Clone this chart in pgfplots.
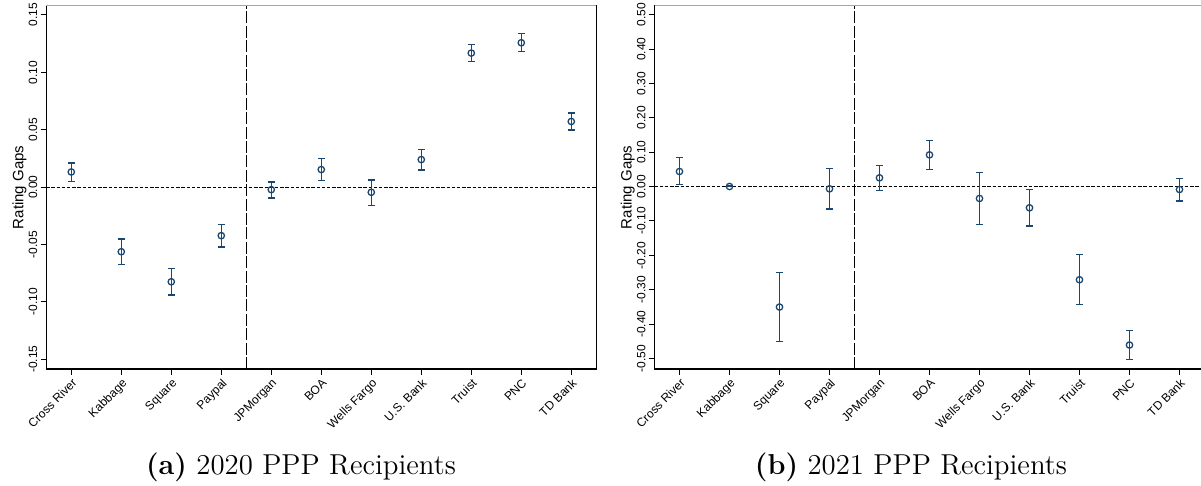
\documentclass[border=0pt]{standalone}
\usepackage{fontspec}
\usepackage{pgfplots}
\pgfplotsset{compat=1.18}
\usepackage{pgfplotstable}
\newfontfamily\arial{Liberation Sans}
\definecolor{stnavy}{RGB}{26,71,111}

\pgfplotstableread{
x y ep em
1 0.0132 0.0079 0.0081
2 -0.0563 0.0110 0.0111
3 -0.0825 0.0116 0.0114
4 -0.0423 0.0098 0.0099
5 -0.0022 0.0067 0.0073
6 0.0153 0.0099 0.0096
7 -0.0045 0.0107 0.0114
8 0.0240 0.0087 0.0090
9 0.1168 0.0073 0.0072
10 0.1258 0.0079 0.0078
11 0.0572 0.0073 0.0073
}\dataA

\pgfplotstableread{
x y ep em
1 0.0441 0.0398 0.0388
2 0.0005 0.0010 0.0010
3 -0.3506 0.1008 0.1009
4 -0.0063 0.0592 0.0592
5 0.0257 0.0369 0.0369
6 0.0926 0.0417 0.0436
7 -0.0344 0.0756 0.0757
8 -0.0616 0.0524 0.0533
9 -0.2711 0.0727 0.0718
10 -0.4612 0.0417 0.0417
11 -0.0082 0.0329 0.0340
}\dataB

\pgfplotsset{
  stpanel/.style={
    scale only axis,
    width=275pt, height=181.65pt,
    anchor=south west,
    xmin=0.5, xmax=11.5,
    xtick={1,...,11},
    xticklabels={Cross River,Kabbage,Square,Paypal,JPMorgan,BOA,Wells Fargo,U.S. Bank,Truist,PNC,TD Bank},
    tick align=outside,
    major tick length=2.8pt,
    xtick pos=bottom, ytick pos=left,
    axis line style={black, line width=0.6pt},
    tick style={black, line width=0.5pt},
    xticklabel style={font=\arial\fontsize{6}{7}\selectfont, rotate=45, anchor=north east, inner sep=1pt},
    yticklabel style={font=\arial\fontsize{6}{7}\selectfont, rotate=90, anchor=south, inner sep=1.5pt},
    ylabel={Rating Gaps},
    ylabel style={font=\arial\fontsize{7.5}{9}\selectfont, at={(axis description cs:-0.0487,0.5)}, anchor=center},
    clip=false,
  },
  ststyle/.style={
    only marks, mark=o, mark size=1.6pt,
    color=stnavy, line width=0.65pt,
    mark options={line width=0.65pt, stnavy},
    error bars/.cd, y dir=both, y explicit,
    error bar style={line width=0.65pt, stnavy},
    error mark options={rotate=90, mark size=1.75pt, line width=0.65pt, stnavy},
  },
}

\begin{document}
\begin{tikzpicture}
\useasboundingbox (0,0) rectangle (600.5pt,243pt);

\begin{axis}[stpanel, at={(23.15pt,58.5pt)},
  ymin=-0.1585, ymax=0.1581,
  ytick={-0.15,-0.10,-0.05,0,0.05,0.10,0.15},
  yticklabels={-0.15,-0.10,-0.05,0.00,0.05,0.10,0.15},
]
\addplot[black, line width=0.5pt, dash pattern=on 1.7pt off 0.9pt] coordinates {(0.5,0) (11.5,0)};
\addplot[black, line width=0.5pt, dash pattern=on 6pt off 1.2pt] coordinates {(4.5,-0.1585) (4.5,0.1581)};
\addplot[ststyle] table[x=x, y=y, y error plus=ep, y error minus=em] {\dataA};
\draw[gray!70, line width=0.8pt] (rel axis cs:0,1) -- (rel axis cs:1,1);
\end{axis}

\begin{axis}[stpanel, at={(327.25pt,58.5pt)},
  ymin=-0.531, ymax=0.527,
  ytick={-0.5,-0.4,-0.3,-0.2,-0.1,0,0.1,0.2,0.3,0.4,0.5},
  yticklabels={-0.50,-0.40,-0.30,-0.20,-0.10,0.00,0.10,0.20,0.30,0.40,0.50},
]
\addplot[black, line width=0.5pt, dash pattern=on 1.7pt off 0.9pt] coordinates {(0.5,0) (11.5,0)};
\addplot[black, line width=0.5pt, dash pattern=on 6pt off 1.2pt] coordinates {(4.5,-0.531) (4.5,0.527)};
\addplot[ststyle] table[x=x, y=y, y error plus=ep, y error minus=em] {\dataB};
\draw[gray!70, line width=0.8pt] (rel axis cs:0,1) -- (rel axis cs:1,1);
\end{axis}

\node[anchor=base, font=\fontsize{14.4}{17}\selectfont] at (150.5pt,5.5pt) {\textbf{(a)} 2020 PPP Recipients};
\node[anchor=base, font=\fontsize{14.4}{17}\selectfont] at (455.5pt,5.5pt) {\textbf{(b)} 2021 PPP Recipients};
\end{tikzpicture}
\end{document}
